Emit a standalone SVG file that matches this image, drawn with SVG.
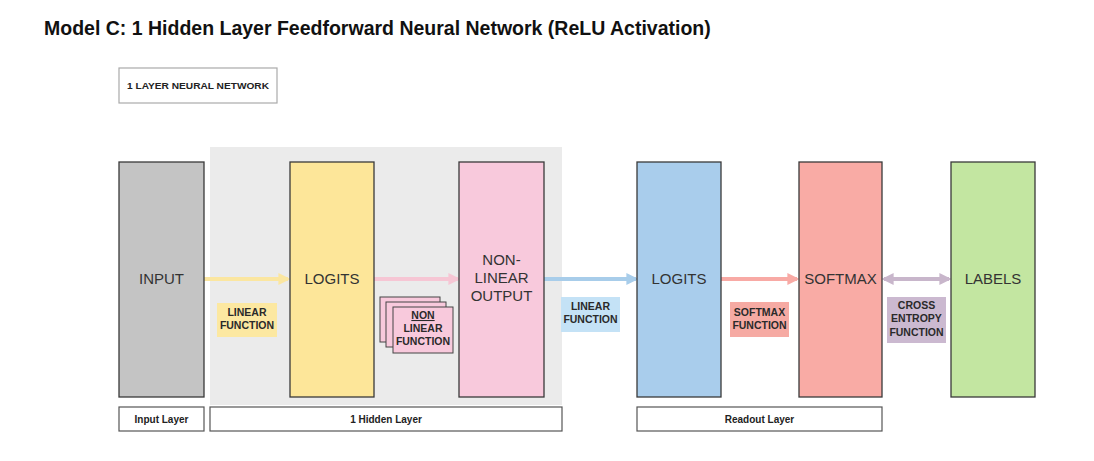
<svg xmlns="http://www.w3.org/2000/svg" width="1094" height="461" viewBox="0 0 1094 461">
<defs>
<style>
text{font-family:"Liberation Sans",Arial,sans-serif}
.title{font-size:19.5px;font-weight:bold;fill:#111}
.node{stroke:#3a3a3a;stroke-width:1.3}
.nt{font-size:15px;fill:#333;text-anchor:middle}
.ft{font-size:10.5px;font-weight:bold;fill:#2a2a2a;text-anchor:middle}
.lb{fill:#fff;stroke:#555;stroke-width:1.2}
.lt{font-size:10px;font-weight:bold;fill:#222;text-anchor:middle}
.conn{stroke-width:4;fill:none}
</style>
<marker id="ay" viewBox="0 0 10 10" refX="8" refY="5" markerWidth="3" markerHeight="3" orient="auto"><path d="M0,0L10,5L0,10z" fill="#fbe6a0"/></marker>
<marker id="ap" viewBox="0 0 10 10" refX="8" refY="5" markerWidth="3" markerHeight="3" orient="auto"><path d="M0,0L10,5L0,10z" fill="#f6c6d4"/></marker>
<marker id="ab" viewBox="0 0 10 10" refX="8" refY="5" markerWidth="3" markerHeight="3" orient="auto"><path d="M0,0L10,5L0,10z" fill="#a8cdea"/></marker>
<marker id="as" viewBox="0 0 10 10" refX="8" refY="5" markerWidth="3" markerHeight="3" orient="auto"><path d="M0,0L10,5L0,10z" fill="#f8aaa5"/></marker>
<marker id="ac" viewBox="0 0 10 10" refX="8" refY="5" markerWidth="3" markerHeight="3" orient="auto-start-reverse"><path d="M0,0L10,5L0,10z" fill="#c8b6cb"/></marker>
</defs>
<rect width="1094" height="461" fill="#fff"/>
<text class="title" x="44" y="35">Model C: 1 Hidden Layer Feedforward Neural Network (ReLU Activation)</text>
<g id="caption">
<rect x="119" y="68" width="158" height="35" fill="#fff" stroke="#aaa" stroke-width="1.2"/>
<text x="198" y="89" font-size="9.5" font-weight="bold" fill="#222" text-anchor="middle" textLength="142" lengthAdjust="spacingAndGlyphs">1 LAYER NEURAL NETWORK</text>
</g>
<rect id="hidden-bg" x="210" y="147" width="352" height="258" fill="#ebebeb"/>
<g id="connectors">
<line class="conn" x1="204" y1="279" x2="288" y2="279" stroke="#fbe6a0" marker-end="url(#ay)"/>
<line class="conn" x1="374" y1="279" x2="458" y2="279" stroke="#f6c6d4" marker-end="url(#ap)"/>
<line class="conn" x1="544" y1="279" x2="636" y2="279" stroke="#a8cdea" marker-end="url(#ab)"/>
<line class="conn" x1="721" y1="279" x2="797" y2="279" stroke="#f8aaa5" marker-end="url(#as)"/>
<line class="conn" x1="884" y1="279" x2="949" y2="279" stroke="#c8b6cb" marker-start="url(#ac)" marker-end="url(#ac)"/>
</g>
<g id="input">
<rect class="node" x="119" y="162" width="85" height="235" fill="#c4c4c4"/>
<text class="nt" x="161.5" y="284">INPUT</text>
</g>
<g id="logits1">
<rect class="node" x="290" y="162" width="84" height="235" fill="#fde699"/>
<text class="nt" x="332" y="284">LOGITS</text>
</g>
<g id="nonlinear-output">
<rect class="node" x="459" y="162" width="85" height="235" fill="#f8c9dc"/>
<text class="nt" x="501.5" y="265">NON-</text>
<text class="nt" x="501.5" y="283">LINEAR</text>
<text class="nt" x="501.5" y="301">OUTPUT</text>
</g>
<g id="logits2">
<rect class="node" x="637" y="162" width="84" height="235" fill="#a9cdec"/>
<text class="nt" x="679" y="284">LOGITS</text>
</g>
<g id="softmax">
<rect class="node" x="799" y="162" width="83" height="235" fill="#f9aba5"/>
<text class="nt" x="840.5" y="284">SOFTMAX</text>
</g>
<g id="labels">
<rect class="node" x="951" y="162" width="84" height="235" fill="#c3e6a1"/>
<text class="nt" x="993" y="284">LABELS</text>
</g>
<g id="linear-fn-1">
<rect x="217" y="303" width="60" height="34" fill="#fce8a1"/>
<text class="ft" x="247" y="316">LINEAR</text>
<text class="ft" x="247" y="329">FUNCTION</text>
</g>
<g id="nonlinear-fn">
<rect x="380" y="297" width="60" height="45" fill="#f8c9dc" stroke="#444" stroke-width="1"/>
<rect x="386" y="302" width="60" height="45" fill="#f8c9dc" stroke="#444" stroke-width="1"/>
<rect x="393" y="307" width="60" height="46" fill="#f8c9dc" stroke="#444" stroke-width="1"/>
<text class="ft" x="423" y="319" text-decoration="underline">NON</text>
<text class="ft" x="423" y="332">LINEAR</text>
<text class="ft" x="423" y="345">FUNCTION</text>
</g>
<g id="linear-fn-2">
<rect x="561" y="297" width="59" height="35" fill="#c4e2f6"/>
<text class="ft" x="590.5" y="309.5">LINEAR</text>
<text class="ft" x="590.5" y="323">FUNCTION</text>
</g>
<g id="softmax-fn">
<rect x="730" y="302" width="59" height="35" fill="#f6aaa3"/>
<text class="ft" x="759.5" y="315.5">SOFTMAX</text>
<text class="ft" x="759.5" y="329">FUNCTION</text>
</g>
<g id="cross-entropy-fn">
<rect x="887" y="297" width="59" height="46" fill="#cbb9d0"/>
<text class="ft" x="916.5" y="308.5">CROSS</text>
<text class="ft" x="916.5" y="322">ENTROPY</text>
<text class="ft" x="916.5" y="335.5">FUNCTION</text>
</g>
<g id="input-layer">
<rect class="lb" x="119" y="407" width="85" height="24"/>
<text class="lt" x="161.5" y="422.5">Input Layer</text>
</g>
<g id="hidden-layer">
<rect class="lb" x="210" y="407" width="352" height="24"/>
<text class="lt" x="386" y="422.5">1 Hidden Layer</text>
</g>
<g id="readout-layer">
<rect class="lb" x="637" y="407" width="245" height="24"/>
<text class="lt" x="759.5" y="422.5">Readout Layer</text>
</g>
</svg>
